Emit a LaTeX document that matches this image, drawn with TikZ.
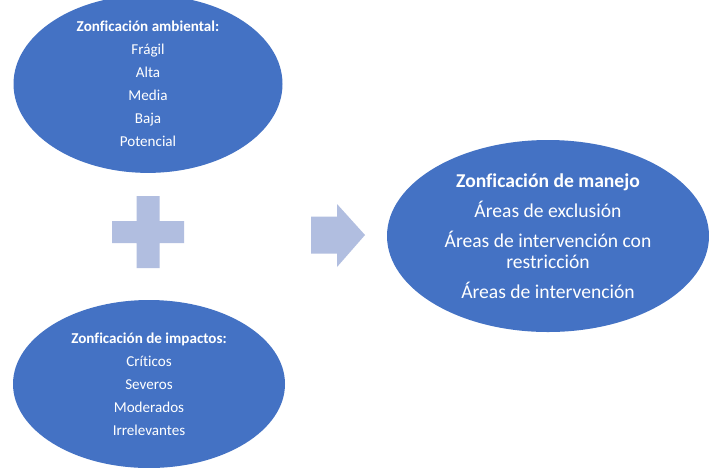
\documentclass[tikz,border=0pt]{standalone}
\usepackage{fontspec}
\setmainfont{Carlito}[Ligatures={NoCommon}]
\usepackage{xcolor}
\definecolor{zonblue}{HTML}{4472C4}
\definecolor{zonlight}{HTML}{B1BEE0}
\usetikzlibrary{shapes.geometric,positioning,calc}
\tikzset{
  zone/.style    = {ellipse,fill=zonblue,draw=none,text=white,align=center,
                    inner sep=0pt},
  zonesmall/.style = {zone,font=\fontsize{15.1}{23}\selectfont},
  zonebig/.style   = {zone,font=\fontsize{19.6}{21}\selectfont},
  symb/.style    = {fill=zonlight,draw=none},
}

\begin{document}
\begin{tikzpicture}[x=1pt,y=-1pt]
  \clip (0,0) rectangle (709,467);
  \fill[white] (0,0) rectangle (709,467);
  % Input zonings
  \node[zonesmall,minimum width=269pt,minimum height=170pt] (amb) at (148,84)
        {\textbf{Zonficación ambiental:}\\Frágil\\Alta\\Media\\Baja\\Potencial};
  \node[zonesmall,minimum width=272pt,minimum height=168pt] (imp) at (149,384)
        {\textbf{Zonficación de impactos:}\\Críticos\\Severos\\Moderados\\Irrelevantes};
  % Result
  \node[zonebig,minimum width=322pt,minimum height=192pt] (man) at (548,236)
        {\textbf{Zonficación de manejo}\\[9pt]Áreas de exclusión\\[9pt]
         Áreas de intervención con\\restricción\\[9pt]Áreas de intervención};
  % Plus sign
  \coordinate (plus) at (148,232);
  \fill[symb] ($(plus)+(-11.5,-36)$) -- ($(plus)+(11.5,-36)$)
    -- ($(plus)+(11.5,-11)$) -- ($(plus)+(36,-11)$) -- ($(plus)+(36,11)$)
    -- ($(plus)+(11.5,11)$) -- ($(plus)+(11.5,36)$) -- ($(plus)+(-11.5,36)$)
    -- ($(plus)+(-11.5,11)$) -- ($(plus)+(-36,11)$) -- ($(plus)+(-36,-11)$)
    -- ($(plus)+(-11.5,-11)$) -- cycle;
  % Arrow
  \coordinate (tip) at (365,235);
  \fill[symb] ($(tip)+(-54,-18.5)$) -- ($(tip)+(-28,-18.5)$)
    -- ($(tip)+(-28,-31)$) -- (tip) -- ($(tip)+(-28,32)$)
    -- ($(tip)+(-28,18.5)$) -- ($(tip)+(-54,18.5)$) -- cycle;
\end{tikzpicture}
\end{document}
